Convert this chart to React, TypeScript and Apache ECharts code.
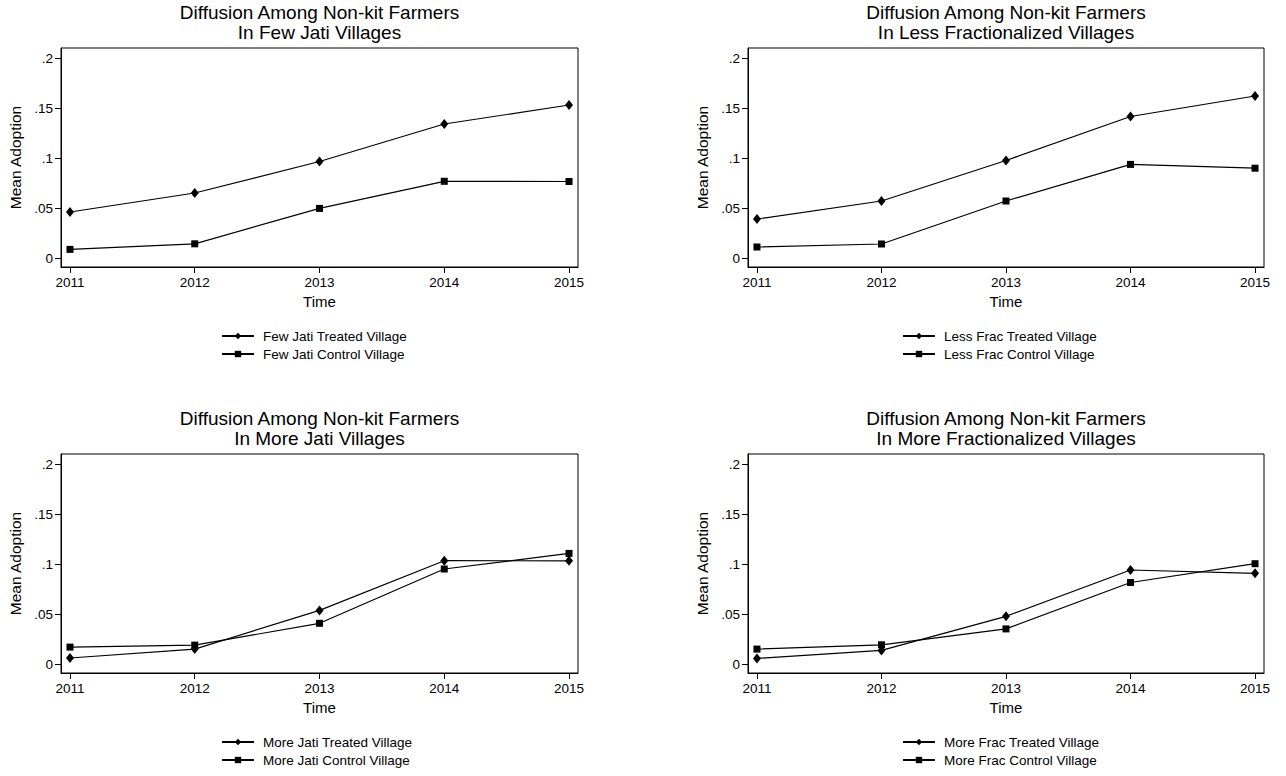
import React, { useEffect, useRef } from "react";
import * as echarts from "echarts";

const years = [2011, 2012, 2013, 2014, 2015];

const fewJatiTreated = [0.046, 0.065, 0.0965, 0.134, 0.153];
const fewJatiControl = [0.0086, 0.0142, 0.0496, 0.0767, 0.0765];
const lessFracTreated = [0.039, 0.057, 0.0975, 0.1415, 0.162];
const lessFracControl = [0.011, 0.014, 0.057, 0.0936, 0.0898];
const moreJatiTreated = [0.006, 0.0149, 0.0536, 0.1033, 0.1032];
const moreJatiControl = [0.0169, 0.0189, 0.0407, 0.095, 0.1106];
const moreFracTreated = [0.0056, 0.0136, 0.0477, 0.094, 0.0907];
const moreFracControl = [0.0149, 0.0192, 0.0351, 0.0815, 0.1003];

const yTicks = [0, 0.05, 0.1, 0.15, 0.2];
const yTickLabels = ["0", ".05", ".1", ".15", ".2"];

const titleLine1 = "Diffusion Among Non-kit Farmers";
const titleLine2 = [
  "In Few Jati Villages",
  "In Less Fractionalized Villages",
  "In More Jati Villages",
  "In More Fractionalized Villages",
];
const treatedNames = [
  "Few Jati Treated Village",
  "Less Frac Treated Village",
  "More Jati Treated Village",
  "More Frac Treated Village",
];
const controlNames = [
  "Few Jati Control Village",
  "Less Frac Control Village",
  "More Jati Control Village",
  "More Frac Control Village",
];
const treatedData = [fewJatiTreated, lessFracTreated, moreJatiTreated, moreFracTreated];
const controlData = [fewJatiControl, lessFracControl, moreJatiControl, moreFracControl];

const FONT = "'Liberation Sans', Arial, Helvetica, sans-serif";

// layout (pixels)
const grids = [
  { left: 61, top: 48, width: 517, height: 219 },
  { left: 748, top: 48, width: 516, height: 219 },
  { left: 61, top: 454, width: 517, height: 219 },
  { left: 748, top: 454, width: 516, height: 219 },
];
const legendLeft = [221, 902, 221, 902];

export default function App() {
  const ref = useRef<HTMLDivElement>(null);

  useEffect(() => {
    if (!ref.current) return;
    const chart = echarts.init(ref.current, null, { renderer: "svg" });

    const xAxis = grids.map((_, i) => ({
      type: "value",
      gridIndex: i,
      min: 2010.928,
      max: 2015.072,
      axisLine: { show: true, onZero: false, lineStyle: { color: "#000", width: 1 } },
      axisTick: {
        show: true,
        customValues: years,
        length: 6,
        lineStyle: { color: "#000", width: 1 },
      },
      axisLabel: {
        customValues: years,
        formatter: (v: number) => String(Math.round(v)),
        margin: 8,
        fontSize: 13.5,
        color: "#000",
        fontFamily: FONT,
      },
      splitLine: { show: false },
      name: "Time",
      nameLocation: "middle",
      nameGap: 27,
      nameTextStyle: { fontSize: 15, color: "#000", fontFamily: FONT },
    }));

    const yAxis = grids.map((_, i) => ({
      type: "value",
      gridIndex: i,
      min: -0.009,
      max: 0.21,
      axisLine: { show: true, onZero: false, lineStyle: { color: "#000", width: 1 } },
      axisTick: {
        show: true,
        customValues: yTicks,
        length: 6,
        lineStyle: { color: "#000", width: 1 },
      },
      axisLabel: {
        customValues: yTicks,
        formatter: (v: number) => {
          const k = yTicks.findIndex((t) => Math.abs(t - v) < 1e-9);
          return k >= 0 ? yTickLabels[k] : String(v);
        },
        margin: 8,
        fontSize: 13.5,
        color: "#000",
        fontFamily: FONT,
      },
      splitLine: { show: false },
      name: "Mean Adoption",
      nameLocation: "middle",
      nameGap: 38,
      nameTextStyle: { fontSize: 15.5, color: "#000", fontFamily: FONT },
    }));

    const series: any[] = [];
    grids.forEach((_, i) => {
      series.push({
        type: "line",
        name: treatedNames[i],
        xAxisIndex: i,
        yAxisIndex: i,
        data: years.map((y, k) => [y, treatedData[i][k]]),
        symbol: "diamond",
        symbolSize: [8, 10],
        showAllSymbol: true,
        lineStyle: { color: "#000", width: 1.2 },
        itemStyle: { color: "#000" },
      });
      series.push({
        type: "line",
        name: controlNames[i],
        xAxisIndex: i,
        yAxisIndex: i,
        data: years.map((y, k) => [y, controlData[i][k]]),
        symbol: "rect",
        symbolSize: 7,
        showAllSymbol: true,
        lineStyle: { color: "#000", width: 1.2 },
        itemStyle: { color: "#000" },
      });
    });

    const legend = grids.map((g, i) => ({
      orient: "vertical",
      left: legendLeft[i],
      top: g.top + g.height + 62,
      height: 60,
      width: 300,
      padding: 0,
      itemWidth: 32,
      itemHeight: 8,
      itemGap: 4,
      selectedMode: false,
      data: [treatedNames[i], controlNames[i]],
      textStyle: { fontSize: 13.5, color: "#000", fontFamily: FONT, padding: [0, 0, 0, 4] },
    }));

    const graphic: any[] = [];
    grids.forEach((g, i) => {
      const cx = g.left + g.width / 2;
      graphic.push({
        type: "text",
        x: cx,
        y: g.top - 35.5,
        style: {
          text: titleLine1,
          fill: "#000",
          fontSize: 19,
          fontFamily: FONT,
          align: "center",
          verticalAlign: "middle",
        },
      });
      graphic.push({
        type: "text",
        x: cx,
        y: g.top - 15.5,
        style: {
          text: titleLine2[i],
          fill: "#000",
          fontSize: 19,
          fontFamily: FONT,
          align: "center",
          verticalAlign: "middle",
        },
      });
    });

    chart.setOption({
      animation: false,
      backgroundColor: "#fff",
      grid: grids.map((g) => ({
        ...g,
        show: true,
        borderColor: "#000",
        borderWidth: 1,
        backgroundColor: "transparent",
        containLabel: false,
      })),
      xAxis,
      yAxis,
      series,
      legend,
      graphic,
    });

    return () => chart.dispose();
  }, []);

  return (
    <div
      ref={ref}
      style={{ position: "fixed", left: 0, top: 0, width: 1286, height: 776, background: "#fff" }}
    />
  );
}
